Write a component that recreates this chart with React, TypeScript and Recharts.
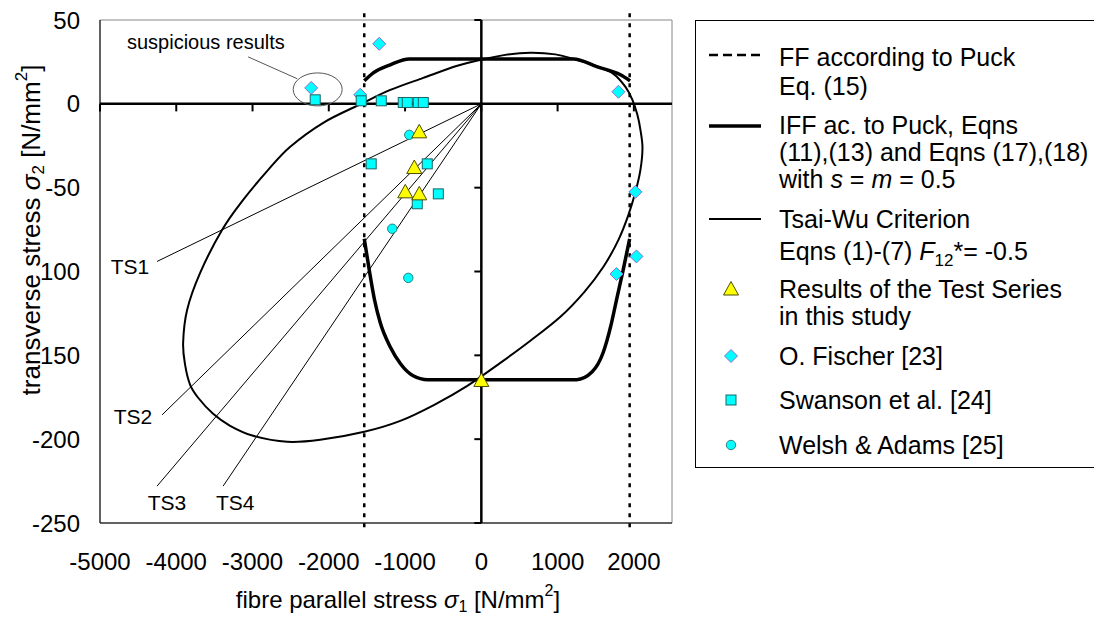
import React from 'react'
import {
  ComposedChart, Line, Scatter, XAxis, YAxis, ReferenceLine, ReferenceDot, ReferenceArea, Legend,
} from 'recharts'

type Pt = { x: number; y: number }

const FONT = '"Liberation Sans", Arial, sans-serif'

// axes
const xTicks = [-5000, -4000, -3000, -2000, -1000, 0, 1000, 2000]
const yTicks = [50, 0, -50, -100, -150, -200, -250]
// the original figure prints these labels as they are (minus signs missing on two of them)
const yTickLabels = ['50', '0', '-50', '100', '150', '-200', '-250']

// fibre failure limits (Puck, Eq. 15)
const ffLimits = [-1535, 1945]

// IFF Puck curve, upper and lower branch
const puckUpper: Pt[] = [
  { x: -1535, y: 13.7 }, { x: -1417, y: 18.5 }, { x: -1194, y: 23.3 }, { x: -945, y: 26.8 },
  { x: 0, y: 26.8 }, { x: 1207, y: 26.8 }, { x: 1522, y: 22 }, { x: 1824, y: 17.3 }, { x: 1950, y: 13.7 },
]
const puckLower: Pt[] = [
  { x: -1535, y: -80.5 }, { x: -1470, y: -99 }, { x: -1400, y: -117 }, { x: -1325, y: -130.6 },
  { x: -1194, y: -145 }, { x: -1060, y: -155 }, { x: -900, y: -162 }, { x: -700, y: -164.5 },
  { x: 0, y: -164.5 }, { x: 1250, y: -164.5 }, { x: 1450, y: -160 }, { x: 1600, y: -148 },
  { x: 1700, y: -132 }, { x: 1772, y: -117 }, { x: 1860, y: -99 }, { x: 1945, y: -80.5 },
]

// Tsai-Wu failure envelope (closed)
const tsaiWu: Pt[] = [
  { x: -1575, y: 0 }, { x: -1194, y: 8.3 }, { x: -761, y: 15.5 }, { x: -315, y: 22.7 }, { x: -13, y: 26.2 },
  { x: 315, y: 29.2 }, { x: 643, y: 30.4 }, { x: 971, y: 29.5 }, { x: 1207, y: 26.8 }, { x: 1496, y: 22.7 },
  { x: 1732, y: 17.9 }, { x: 1890, y: 10.1 }, { x: 1981, y: 2.4 }, { x: 2047, y: -6.6 }, { x: 2086, y: -15.5 },
  { x: 2113, y: -26.2 }, { x: 2086, y: -39.4 }, { x: 2021, y: -52.5 }, { x: 1929, y: -66.2 },
  { x: 1798, y: -81.1 }, { x: 1601, y: -97.2 }, { x: 1352, y: -112.1 }, { x: 1037, y: -127 },
  { x: 643, y: -141.3 }, { x: 249, y: -154.5 }, { x: -184, y: -168.2 }, { x: -617, y: -179.5 },
  { x: -1063, y: -189.1 }, { x: -1535, y: -195.6 }, { x: -2113, y: -200.4 }, { x: -2546, y: -201.6 },
  { x: -2992, y: -198 }, { x: -3294, y: -192 }, { x: -3517, y: -184.9 }, { x: -3713, y: -175.3 },
  { x: -3818, y: -167.6 }, { x: -3884, y: -155.7 }, { x: -3910, y: -142.5 }, { x: -3858, y: -122.9 },
  { x: -3687, y: -100.8 }, { x: -3398, y: -75.1 }, { x: -3123, y: -57.3 }, { x: -2795, y: -39.4 },
  { x: -2506, y: -25.6 }, { x: -2073, y: -11.3 },
]

// measured results
const testSeries: Pt[] = [
  { x: -814, y: -16.7 }, { x: -879, y: -38 }, { x: -997, y: -52.5 }, { x: -814, y: -53.7 }, { x: 0, y: -165 },
]
const fischer: Pt[] = [
  { x: -2231, y: 9.5 }, { x: -1339, y: 35.8 }, { x: -1588, y: 5.4 }, { x: 1798, y: 7.2 },
  { x: 2021, y: -52.5 }, { x: 2034, y: -91 }, { x: 1772, y: -101.5 },
]
const swanson: Pt[] = [
  { x: -2178, y: 2.4 }, { x: -1575, y: 1.8 }, { x: -1312, y: 1.8 }, { x: -1024, y: 0.8 }, { x: -971, y: 0.8 },
  { x: -827, y: 0.8 }, { x: -761, y: 0.8 }, { x: -1444, y: -35.8 }, { x: -709, y: -35.8 },
  { x: -564, y: -53.7 }, { x: -840, y: -59.6 },
]
const welsh: Pt[] = [{ x: -945, y: -18.5 }, { x: -1168, y: -74.5 }, { x: -958, y: -103.8 }]

// load paths of the test series TS1..TS4 (from the origin)
const tsNames = ['TS1', 'TS2', 'TS3', 'TS4']
const tsEndX = [-4252, -4186, -4252, -3386]
const tsEndY = [-94, -185.5, -228, -228]
const tsLabelX = [-4606, -4567, -4121, -3228]
const tsLabelY = [-97, -186.6, -238, -238]

// closed cubic (Catmull-Rom) curve, so the envelope has no seam
const closedSmooth = (context: any) => {
  let pts: [number, number][] = []
  return {
    areaStart() {},
    areaEnd() {},
    lineStart() { pts = [] },
    point(x: number, y: number) { pts.push([x, y]) },
    lineEnd() {
      const n = pts.length
      if (!n) return
      const P = (i: number) => pts[(i + n) % n]
      context.moveTo(pts[0][0], pts[0][1])
      for (let i = 0; i < n; i++) {
        const p0 = P(i - 1), p1 = P(i), p2 = P(i + 1), p3 = P(i + 2)
        context.bezierCurveTo(
          p1[0] + (p2[0] - p0[0]) / 6, p1[1] + (p2[1] - p0[1]) / 6,
          p2[0] - (p3[0] - p1[0]) / 6, p2[1] - (p3[1] - p1[1]) / 6,
          p2[0], p2[1],
        )
      }
      context.closePath()
    },
  }
}

const Triangle = (p: any) => (
  <polygon points={`${p.cx},${p.cy - 7.5} ${p.cx + 7.5},${p.cy + 6} ${p.cx - 7.5},${p.cy + 6}`}
    fill="#FFFF00" stroke="#4d4d00" strokeWidth={1} />
)
const Diamond = (p: any) => (
  <polygon points={`${p.cx},${p.cy - 6.5} ${p.cx + 6.5},${p.cy} ${p.cx},${p.cy + 6.5} ${p.cx - 6.5},${p.cy}`}
    fill="#00FFFF" stroke="#8a6ad0" strokeWidth={1} />
)
const Square = (p: any) => (
  <rect x={p.cx - 5} y={p.cy - 5} width={10} height={10} fill="#00FFFF" stroke="#1a6666" strokeWidth={1} />
)
const Circle = (p: any) => <circle cx={p.cx} cy={p.cy} r={4.7} fill="#00FFFF" stroke="#2a8080" strokeWidth={1} />

const YTitle = () => (
  <text x={31} y={230} transform="rotate(-90 31 230)" textAnchor="middle" dominantBaseline="central"
    fontFamily={FONT} fontSize={26} fill="#000">
    transverse stress <tspan fontStyle="italic">σ</tspan>
    <tspan fontSize={17} dy={7}>2</tspan>
    <tspan dy={-7}> [N/mm</tspan>
    <tspan fontSize={17} dy={-10}>2</tspan>
    <tspan dy={10}>]</tspan>
  </text>
)

const XTitle = () => (
  <text x={398} y={599} textAnchor="middle" dominantBaseline="central" fontFamily={FONT} fontSize={24} fill="#000">
    fibre parallel stress <tspan fontStyle="italic">σ</tspan>
    <tspan fontSize={16} dy={7}>1</tspan>
    <tspan dy={-7}> [N/mm</tspan>
    <tspan fontSize={16} dy={-9}>2</tspan>
    <tspan dy={9}>]</tspan>
  </text>
)

const lineRow = (top: number, text: React.ReactNode) => (
  <div style={{ position: 'absolute', left: 83, top: top - 11, height: 22, lineHeight: '22px', whiteSpace: 'nowrap' }}>{text}</div>
)

const LegendBox = () => (
  <div style={{
    position: 'relative', width: 410, height: 448, border: '1px solid #000', boxSizing: 'border-box',
    background: '#fff', fontFamily: FONT, fontSize: 25, color: '#000',
  }}>
    <svg width={80} height={448} style={{ position: 'absolute', left: 0, top: 0 }}>
      <line x1={13} y1={34} x2={65} y2={34} stroke="#000" strokeWidth={2.5} strokeDasharray="9 5" />
      <line x1={13} y1={105} x2={65} y2={105} stroke="#000" strokeWidth={3.5} />
      <line x1={13} y1={198} x2={65} y2={198} stroke="#000" strokeWidth={2} />
      <Triangle cx={35} cy={268} />
      <Diamond cx={35} cy={335} />
      <Square cx={35} cy={379} />
      <Circle cx={35} cy={424} />
    </svg>
    {lineRow(36, 'FF according to Puck')}
    {lineRow(65, 'Eq. (15)')}
    {lineRow(104, 'IFF ac. to Puck, Eqns')}
    {lineRow(131, '(11),(13) and Eqns (17),(18)')}
    {lineRow(158, <>with <i>s</i> = <i>m</i> = 0.5</>)}
    {lineRow(198, 'Tsai-Wu Criterion')}
    {lineRow(230, <>Eqns (1)-(7) <i>F</i><span style={{ fontSize: 17, position: 'relative', top: 6 }}>12</span>*= -0.5</>)}
    {lineRow(268, 'Results of the Test Series')}
    {lineRow(295, 'in this study')}
    {lineRow(335, 'O. Fischer [23]')}
    {lineRow(379, 'Swanson et al. [24]')}
    {lineRow(424, 'Welsh & Adams [25]')}
  </div>
)

const textShape = (label: string, size: number, anchor: string = 'middle') => (p: any) => (
  <text x={p.cx} y={p.cy} textAnchor={anchor} dominantBaseline="central" fontFamily={FONT} fontSize={size} fill="#000">
    {label}
  </text>
)

export default function App() {
  return (
    <div style={{ position: 'absolute', left: 0, top: 0, width: 1094, height: 617, background: '#fff' }}>
      <ComposedChart width={1094} height={617} margin={{ top: 20, right: 422, bottom: 0, left: 0 }}>
        <ReferenceArea x1={-5000} x2={2500} y1={-250} y2={50} fill="none" stroke="#888" strokeWidth={1} />
        <XAxis type="number" dataKey="x" domain={[-5000, 2500]} ticks={xTicks} height={94}
          axisLine={{ stroke: '#000' }} tickLine={false} tickSize={0} tickMargin={30} interval={0}
          tick={{ fill: '#000', fontSize: 24, fontFamily: FONT }} label={<XTitle />} />
        <YAxis type="number" dataKey="y" domain={[-250, 50]} ticks={yTicks} width={100} interval={0}
          axisLine={{ stroke: '#000' }} tickLine={false} tickSize={0} tickMargin={20}
          tickFormatter={(v: number) => yTickLabels[yTicks.indexOf(v)]}
          tick={{ fill: '#000', fontSize: 24, fontFamily: FONT }} label={<YTitle />} />

        {/* axes through the origin */}
        <ReferenceLine y={0} stroke="#000" strokeWidth={2.5} />
        <ReferenceLine x={0} stroke="#000" strokeWidth={2.5} />
        {xTicks.map(t => (
          <ReferenceLine key={'xt' + t} segment={[{ x: t, y: 0 }, { x: t, y: -4.5 }]} stroke="#000" strokeWidth={2} />
        ))}
        {yTicks.filter(t => t !== 0).map(t => (
          <ReferenceLine key={'yt' + t} segment={[{ x: 0, y: t }, { x: -92, y: t }]} stroke="#000" strokeWidth={2} />
        ))}

        {ffLimits.map(v => (
          <ReferenceLine key={'ff' + v} segment={[{ x: v, y: 54 }, { x: v, y: -254 }]} ifOverflow="visible"
            stroke="#000" strokeWidth={2.5} strokeDasharray="4 6" />
        ))}

        {tsNames.map((n, i) => (
          <Line key={n} data={[{ x: 0, y: 0 }, { x: tsEndX[i], y: tsEndY[i] }]} dataKey="y" type="linear"
            stroke="#000" strokeWidth={1} dot={false} activeDot={false} isAnimationActive={false} legendType="none" />
        ))}

        <Line data={tsaiWu} dataKey="y" type={closedSmooth as any} stroke="#000" strokeWidth={2} dot={false}
          activeDot={false} isAnimationActive={false} name="Tsai-Wu Criterion" />
        <Line data={puckUpper} dataKey="y" type="monotone" stroke="#000" strokeWidth={3.5} dot={false}
          activeDot={false} isAnimationActive={false} name="IFF Puck" />
        <Line data={puckLower} dataKey="y" type="monotone" stroke="#000" strokeWidth={3.5} dot={false}
          activeDot={false} isAnimationActive={false} legendType="none" />

        <Scatter data={fischer} dataKey="y" shape={Diamond} isAnimationActive={false} name="O. Fischer [23]" />
        <Scatter data={swanson} dataKey="y" shape={Square} isAnimationActive={false} name="Swanson et al. [24]" />
        <Scatter data={welsh} dataKey="y" shape={Circle} isAnimationActive={false} name="Welsh & Adams [25]" />
        <Scatter data={testSeries} dataKey="y" shape={Triangle} isAnimationActive={false} name="Test Series" />

        {tsNames.map((n, i) => (
          <ReferenceDot key={'l' + n} x={tsLabelX[i]} y={tsLabelY[i]} shape={textShape(n, 21)} ifOverflow="visible" />
        ))}

        {/* "suspicious results" annotation */}
        <ReferenceDot x={-2146} y={8.6} ifOverflow="visible"
          shape={(p: any) => <ellipse cx={p.cx} cy={p.cy} rx={24.5} ry={16.5} fill="none" stroke="#555" strokeWidth={1} />} />
        <ReferenceLine segment={[{ x: -3058, y: 28 }, { x: -2415, y: 15 }]} stroke="#555" strokeWidth={1} />
        <ReferenceDot x={-4646} y={37} ifOverflow="visible" shape={textShape('suspicious results', 20, 'start')} />

        <Legend layout="vertical" align="center" verticalAlign="middle"
          wrapperStyle={{ left: 695, top: 20, width: 410, height: 448 }} content={() => <LegendBox />} />
      </ComposedChart>
    </div>
  )
}
